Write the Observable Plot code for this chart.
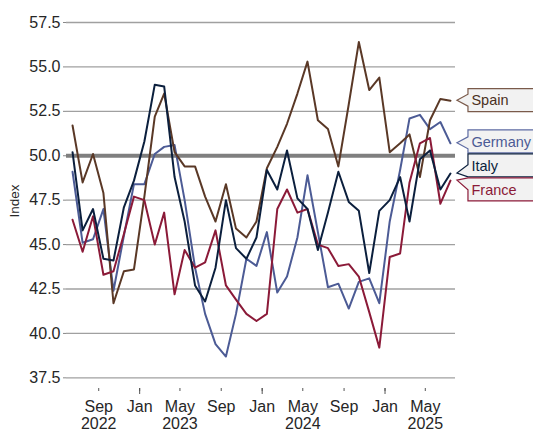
<!DOCTYPE html>
<html>
<head>
<meta charset="utf-8">
<script src="https://cdn.jsdelivr.net/npm/d3@7"></script>
<script src="https://cdn.jsdelivr.net/npm/@observablehq/plot@0.6"></script>
<style>
  html, body { margin: 0; padding: 0; background: #fff; }
  #chart svg { display: block; font-family: "Liberation Sans", Arial, sans-serif; }
</style>
</head>
<body>
<div id="chart"></div>
<script>
const months = ["2022-06","2022-07","2022-08","2022-09","2022-10","2022-11","2022-12",
  "2023-01","2023-02","2023-03","2023-04","2023-05","2023-06","2023-07","2023-08","2023-09","2023-10","2023-11","2023-12",
  "2024-01","2024-02","2024-03","2024-04","2024-05","2024-06","2024-07","2024-08","2024-09","2024-10","2024-11","2024-12",
  "2025-01","2025-02","2025-03","2025-04","2025-05","2025-06","2025-07"];

const spain   = [51.7,48.5,50.1,47.9,41.7,43.5,43.6,47.7,52.2,53.5,50.2,49.4,49.4,47.7,46.3,48.4,45.9,45.4,46.3,49.3,50.5,51.8,53.5,55.3,52.0,51.5,49.4,52.9,56.4,53.7,54.4,50.2,50.7,51.2,48.8,52.0,53.2,53.1];
const germany = [49.1,45.1,45.3,47.0,42.4,45.5,48.4,48.4,50.1,50.5,50.6,47.5,43.7,41.1,39.4,38.7,41.1,44.2,43.8,45.7,42.3,43.2,45.4,48.9,45.7,42.6,42.8,41.4,42.9,43.1,41.7,46.3,49.2,52.1,52.3,51.5,51.9,50.7];
const italy   = [50.2,45.8,47.0,44.2,44.1,47.1,48.6,50.8,54.0,53.9,48.8,46.3,42.7,41.8,43.7,47.5,44.8,44.2,45.4,49.2,48.1,50.3,47.6,47.0,44.7,46.8,49.1,47.4,46.9,43.4,46.9,47.5,48.8,46.3,49.8,50.3,48.1,49.0];
const france  = [46.4,44.6,46.6,43.3,43.5,45.6,47.7,47.5,45.0,46.8,42.2,44.7,43.7,44.0,45.8,42.7,41.9,41.1,40.7,41.1,47.0,48.1,46.8,47.0,45.0,44.8,43.8,43.9,43.2,41.2,39.2,44.3,44.5,48.5,50.7,51.0,47.3,48.6];

const seriesNames = ["Germany","Spain","France","Italy"];
const seriesColors = {Spain:"#5a3826", Germany:"#4c5b95", Italy:"#0b1f3d", France:"#8b1a38"};
const boxStroke = {Spain:"#7a5a4a", Germany:"#5d6ba3", Italy:"#0b1f3d", France:"#8b1a38"};
const textColors = {Spain:"#4a3022", Germany:"#4c5b95", Italy:"#0b1f3d", France:"#8b1a38"};

const yTicks = [37.5,40,42.5,45,47.5,50,52.5,55,57.5];
const xTickMonths = ["2022-09","2023-01","2023-05","2023-09","2024-01","2024-05","2024-09","2025-01","2025-05"];
const janTickMonths = ["2023-01","2024-01","2025-01"];
const yearUnderTick = {"2022-09":"2022","2023-05":"2023","2024-05":"2024","2025-05":"2025"};
const monthAbbr = ["Jan","Feb","Mar","Apr","May","Jun","Jul","Aug","Sep","Oct","Nov","Dec"];
const refLine = 50;
const yLabel = "Index";

const valuesBy = {Spain: spain, Germany: germany, Italy: italy, France: france};
const mid = s => { const [y,m] = s.split("-").map(Number); return new Date(Date.UTC(y, m-1, 15)); };
const first = s => { const [y,m] = s.split("-").map(Number); return new Date(Date.UTC(y, m-1, 1)); };

const data = [];
for (const name of seriesNames) {
  valuesBy[name].forEach((v, i) => data.push({country: name, date: mid(months[i]), value: v}));
}

const xTicks = xTickMonths.map(first);
const janTicks = janTickMonths.map(first);
const fmtTick = d => {
  const key = d.getUTCFullYear() + "-" + String(d.getUTCMonth()+1).padStart(2,"0");
  const m = monthAbbr[d.getUTCMonth()];
  return yearUnderTick[key] ? m + "\n" + yearUnderTick[key] : m;
};

const W = 533, H = 434;
const chart = Plot.plot({
  width: W, height: H,
  marginLeft: 66, marginRight: 78, marginTop: 22, marginBottom: 46,
  style: {fontFamily: '"Liberation Sans", Arial, sans-serif', color: "#262626", background: "#fff"},
  x: {type: "utc", domain: [new Date(Date.UTC(2022,4,28)), new Date(Date.UTC(2025,6,30))]},
  y: {domain: [36.9, 57.5]},
  color: {domain: Object.keys(seriesColors), range: Object.values(seriesColors)},
  marks: [
    Plot.ruleY(yTicks.filter(t => t !== refLine), {stroke: "#a0a0a0", strokeWidth: 1.3}),
    Plot.ruleY([refLine], {stroke: "#7f7f7f", strokeWidth: 4}),
    Plot.axisY({ticks: yTicks, tickSize: 3, tickPadding: 3, tickFormat: d3.format(".1f"), fontSize: 16, stroke: "#888", label: null}),
    Plot.axisX({ticks: xTicks, tickSize: 3, tickPadding: 9, tickFormat: fmtTick, fontSize: 16, lineHeight: 1.05, stroke: "#555", label: null}),
    Plot.axisX({ticks: janTicks, tickSize: 6, tickFormat: () => "", stroke: "#555", label: null}),
    Plot.text([yLabel], {frameAnchor: "left", rotate: -90, dx: -52, dy: 12, fontSize: 13.5, fill: "#262626"}),
    Plot.line(data, {x: "date", y: "value", z: "country", stroke: "country", strokeWidth: 2})
  ]
});

document.getElementById("chart").appendChild(chart);

// Right-hand labels with arrow boxes, positioned through the plot's scales
const xs = chart.scale("x"), ys = chart.scale("y");
const svg = d3.select(chart);
const lastDate = mid(months[months.length-1]);
const tipX = xs.apply(lastDate) + 7;
const boxLeft = tipX + 11, boxRight = W + 10, boxH = 23, gap = 1;
let items = ["Spain","Germany","Italy","France"].map(n => {
  const v = valuesBy[n][valuesBy[n].length-1];
  const ty = ys.apply(v);
  return {name: n, tip: ty, c: ty};
}).sort((a,b) => a.tip - b.tip);
let clusters = items.map(d => ({members:[d], c: d.tip}));
let changed = true;
while (changed) {
  changed = false;
  for (let i = 0; i < clusters.length - 1; i++) {
    const a = clusters[i], b = clusters[i+1];
    const aBottom = a.c + (a.members.length*(boxH+gap))/2;
    const bTop = b.c - (b.members.length*(boxH+gap))/2;
    if (aBottom > bTop) {
      const members = a.members.concat(b.members);
      const c = d3.mean(members, m => m.tip);
      clusters.splice(i, 2, {members, c});
      changed = true; break;
    }
  }
}
for (const cl of clusters) {
  const n = cl.members.length, tot = n*(boxH+gap);
  cl.members.forEach((m, k) => { m.c = cl.c - tot/2 + (boxH+gap)*(k+0.5); });
}
const g = svg.append("g").attr("text-anchor", "start");
for (const it of items) {
  const top = it.c - boxH/2, bottom = it.c + boxH/2;
  let yb = Math.max(top, Math.min(it.tip - 6, bottom - 12));
  const p = `M${boxLeft},${top}H${boxRight}V${bottom}H${boxLeft}V${yb+12}L${tipX},${it.tip}L${boxLeft},${yb}Z`;
  g.append("path").attr("d", p).attr("fill", "#f2f2f2").attr("stroke", boxStroke[it.name]).attr("stroke-width", 1.2);
  g.append("text").attr("x", boxLeft + 3.5).attr("y", it.c).attr("dy", "0.36em")
    .attr("text-anchor", "start").attr("font-size", 14.5).attr("fill", textColors[it.name]).text(it.name);
}
</script>
</body>
</html>
